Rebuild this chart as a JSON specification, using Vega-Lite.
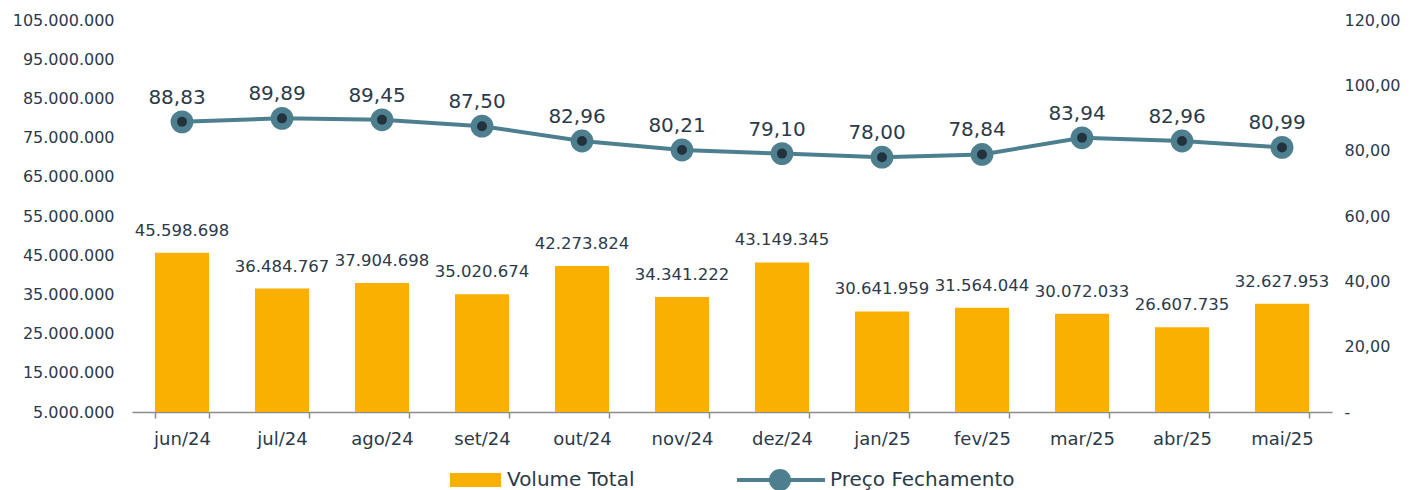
{
  "$schema": "https://vega.github.io/schema/vega-lite/v6.json",
  "width": 1200,
  "height": 392,
  "padding": {"left": 12, "top": 12, "right": 12, "bottom": 0},
  "background": "white",
  "config": {
    "locale": {"number": {"decimal": ",", "thousands": ".", "grouping": [3], "currency": ["R$", ""]}},
    "font": "DejaVu Sans",
    "view": {"stroke": null},
    "axis": {"grid": false, "labelColor": "#2B3A4A", "labelFontSize": 16, "domain": false, "ticks": false, "title": null},
    "legend": {"layout": {"bottom": {"anchor": "middle"}}}
  },
  "data": {"values": [
    {"mes": "jun/24", "volume": 45598698, "preco": 88.83},
    {"mes": "jul/24", "volume": 36484767, "preco": 89.89},
    {"mes": "ago/24", "volume": 37904698, "preco": 89.45},
    {"mes": "set/24", "volume": 35020674, "preco": 87.50},
    {"mes": "out/24", "volume": 42273824, "preco": 82.96},
    {"mes": "nov/24", "volume": 34341222, "preco": 80.21},
    {"mes": "dez/24", "volume": 43149345, "preco": 79.10},
    {"mes": "jan/25", "volume": 30641959, "preco": 78.00},
    {"mes": "fev/25", "volume": 31564044, "preco": 78.84},
    {"mes": "mar/25", "volume": 30072033, "preco": 83.94},
    {"mes": "abr/25", "volume": 26607735, "preco": 82.96},
    {"mes": "mai/25", "volume": 32627953, "preco": 80.99}
  ]},
  "encoding": {
    "x": {
      "field": "mes", "type": "ordinal", "sort": null,
      "scale": {"paddingInner": 0.46, "paddingOuter": 0.23},
      "axis": {"domain": true, "domainColor": "#8C8C8C", "domainWidth": 1.5, "ticks": true, "tickBand": "extent", "tickColor": "#8C8C8C", "tickWidth": 1.5, "tickSize": 6, "labelFontSize": 18, "labelPadding": 12, "labelAngle": 0}
    }
  },
  "layer": [
    {
      "encoding": {
        "y": {"field": "volume", "type": "quantitative",
          "scale": {"domain": [5000000, 105000000], "nice": false, "zero": false},
          "axis": {"orient": "left", "values": [5000000, 15000000, 25000000, 35000000, 45000000, 55000000, 65000000, 75000000, 85000000, 95000000, 105000000], "format": ",.0f", "labelPadding": 18}}
      },
      "layer": [
        {
          "mark": {"type": "bar"},
          "encoding": {
            "y2": {"datum": 5000000},
            "color": {"datum": "Volume Total", "type": "nominal",
              "scale": {"domain": ["Volume Total", "Preço Fechamento"], "range": ["#F9B000", "#4E7F8E"]},
              "legend": {
                "orient": "bottom", "direction": "horizontal", "title": null,
                "labelFontSize": 20, "labelColor": "#2B3A4A", "labelOffset": 73, "labelLimit": 400,
                "symbolSize": 8100, "clipHeight": 24, "columnPadding": 102, "offset": 20,
                "encode": {
                  "symbols": {"update": {
                    "shape": {"signal": "datum.value == 'Volume Total' ? 'M-0.267,-0.156H0.911V0.156H-0.267Z' : 'M-0.267,0H1.733M0.533,0A0.2,0.2,0,1,1,0.933,0A0.2,0.2,0,1,1,0.533,0Z'"},
                    "fill": {"signal": "datum.value == 'Volume Total' ? '#F9B000' : '#4E7F8E'"},
                    "stroke": {"signal": "datum.value == 'Volume Total' ? '#F9B000' : '#4E7F8E'"},
                    "strokeWidth": {"signal": "datum.value == 'Volume Total' ? 0 : 4"},
                    "opacity": {"value": 1},
                    "fillOpacity": {"value": 1}
                  }},
                  "labels": {"update": {
                    "dx": {"signal": "datum.value == 'Volume Total' ? -36 : 0"}
                  }}
                }
              }
            }
          }
        },
        {
          "mark": {"type": "text", "baseline": "middle", "dy": -22, "fontSize": 16.5, "color": "#2B3A4A"},
          "encoding": {"text": {"field": "volume", "type": "quantitative", "format": ",.0f"}}
        }
      ]
    },
    {
      "encoding": {
        "y": {"field": "preco", "type": "quantitative",
          "scale": {"domain": [0, 120], "nice": false},
          "axis": {"orient": "right", "values": [0, 20, 40, 60, 80, 100, 120], "labelExpr": "datum.value == 0 ? '-' : format(datum.value, ',.2f')", "labelPadding": 12}}
      },
      "layer": [
        {
          "mark": {"type": "line", "strokeWidth": 4},
          "encoding": {"color": {"datum": "Preço Fechamento", "type": "nominal"}}
        },
        {
          "mark": {"type": "point", "shape": "circle", "filled": true, "size": 520, "color": "#4E7F8E", "opacity": 1}
        },
        {
          "mark": {"type": "point", "shape": "circle", "filled": true, "size": 100, "color": "#22333F", "opacity": 1}
        },
        {
          "mark": {"type": "text", "baseline": "middle", "dy": -24, "dx": -5, "fontSize": 20, "color": "#2B3A4A"},
          "encoding": {"text": {"field": "preco", "type": "quantitative", "format": ",.2f"}}
        }
      ]
    }
  ],
  "resolve": {"scale": {"y": "independent"}}
}
